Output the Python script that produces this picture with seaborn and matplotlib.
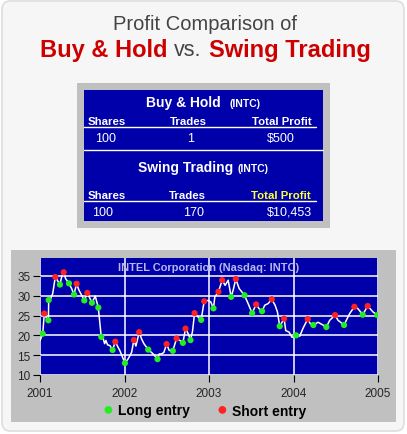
import numpy as np
import pandas as pd
import seaborn as sns
import matplotlib.pyplot as plt
from matplotlib.patches import FancyBboxPatch, Rectangle

# INTC weekly close trace, decimal year / price
price_t = [2001.000, 2001.032, 2001.051, 2001.079, 2001.099, 2001.103, 2001.126, 2001.150, 2001.181, 2001.205,
           2001.236, 2001.256, 2001.280, 2001.303, 2001.343, 2001.374, 2001.402, 2001.433, 2001.461, 2001.493,
           2001.524, 2001.560, 2001.591, 2001.615, 2001.654, 2001.690, 2001.725, 2001.749, 2001.765, 2001.780,
           2001.800, 2001.828, 2001.859, 2001.891, 2001.914, 2001.946, 2002.005, 2002.044, 2002.084, 2002.111,
           2002.135, 2002.174, 2002.202, 2002.230, 2002.281, 2002.340, 2002.391, 2002.411, 2002.438, 2002.466,
           2002.498, 2002.529, 2002.572, 2002.616, 2002.655, 2002.691, 2002.722, 2002.754, 2002.781, 2002.805,
           2002.829, 2002.872, 2002.907, 2002.943, 2002.990, 2003.022, 2003.053, 2003.069, 2003.112, 2003.156,
           2003.191, 2003.227, 2003.262, 2003.286, 2003.317, 2003.357, 2003.420, 2003.463, 2003.510, 2003.558,
           2003.593, 2003.628, 2003.660, 2003.699, 2003.743, 2003.782, 2003.810, 2003.837, 2003.889, 2003.908,
           2003.948, 2003.983, 2004.031, 2004.074, 2004.113, 2004.168, 2004.200, 2004.235, 2004.291, 2004.389,
           2004.429, 2004.492, 2004.527, 2004.598, 2004.665, 2004.720, 2004.764, 2004.819, 2004.878, 2004.941,
           2004.992]
price_v = [18.7, 20.4, 25.5, 24.2, 23.8, 28.9, 29.3, 30.5, 34.7, 33.9,
           32.8, 34.7, 35.9, 34.3, 33.1, 31.8, 30.3, 33.0, 31.4, 30.1,
           28.8, 30.7, 29.3, 28.2, 29.9, 27.0, 19.6, 19.1, 17.9, 18.7,
           17.6, 17.4, 16.3, 18.4, 17.4, 16.1, 13.0, 14.1, 15.7, 18.8,
           17.3, 20.8, 19.1, 17.9, 16.4, 15.3, 14.0, 15.3, 15.3, 15.7,
           17.8, 16.2, 16.1, 19.2, 18.7, 18.1, 21.7, 20.4, 18.8, 21.0,
           25.6, 24.6, 23.9, 28.6, 28.8, 28.4, 26.8, 29.7, 31.0, 33.9,
           32.6, 33.9, 29.7, 31.4, 34.2, 31.8, 30.1, 28.0, 25.6, 27.8,
           26.7, 26.1, 27.6, 28.0, 29.1, 27.6, 25.9, 22.3, 24.2, 21.2,
           20.8, 19.5, 20.0, 19.8, 21.8, 24.1, 22.9, 22.6, 23.3, 22.1,
           23.8, 25.1, 23.8, 22.6, 25.5, 27.2, 26.7, 25.2, 27.4, 25.9,
           25.1]

long_t = [2001.032, 2001.099, 2001.103, 2001.236, 2001.343, 2001.402, 2001.524, 2001.615, 2001.690, 2001.725,
          2001.859, 2002.005, 2002.281, 2002.391, 2002.572, 2002.691, 2002.781, 2002.907, 2003.053, 2003.262,
          2003.420, 2003.510, 2003.628, 2003.837, 2004.031, 2004.235, 2004.389, 2004.598, 2004.819, 2004.992]
long_v = [20.4, 23.8, 28.9, 32.8, 33.1, 30.3, 28.8, 28.2, 27.0, 19.6,
          16.3, 13.0, 16.4, 14.0, 16.1, 18.1, 18.8, 23.9, 26.8, 29.7,
          30.1, 25.6, 26.1, 22.3, 20.0, 22.6, 22.1, 22.6, 25.2, 25.1]

short_t = [2001.051, 2001.181, 2001.280, 2001.433, 2001.560, 2001.891, 2002.111, 2002.174, 2002.498, 2002.616,
           2002.722, 2002.829, 2002.943, 2003.112, 2003.156, 2003.317, 2003.558, 2003.743, 2003.889, 2004.168,
           2004.492, 2004.720, 2004.878]
short_v = [25.5, 34.7, 35.9, 33.0, 30.7, 18.4, 18.8, 20.8, 17.8, 19.2,
           21.7, 25.6, 28.6, 31.0, 33.9, 34.2, 27.8, 29.1, 24.2, 24.1,
           25.1, 27.2, 27.4]

years = [2001, 2002, 2003, 2004, 2005]
yticks = [10, 15, 20, 25, 30, 35]

headers = ["Shares", "Trades", "Total Profit"]
bh_row = ["100", "1", "$500"]
sw_row = ["100", "170", "$10,453"]

W, H = 407, 435
RED = "#cc0000"
BLUE = "#0000aa"
PANEL = "#c0c0c0"

sns.set_style("white")
plt.rcParams["font.family"] = ["Liberation Sans", "DejaVu Sans"]


def fx(x):
    return x / W


def fy(y):
    return 1 - y / H


fig = plt.figure(figsize=(W / 100, H / 100), dpi=100)
fig.patch.set_facecolor("white")
fig.patches.append(FancyBboxPatch((fx(2), fy(432)), fx(402), 430 / H, boxstyle="round,pad=0,rounding_size=0.02",
                                  transform=fig.transFigure, fc="#f6f6f6", ec="#dddddd", lw=1.2, zorder=-3))

# title
fig.text(fx(205), fy(25), "Profit Comparison of", ha="center", va="center", fontsize=14.5, color="#444444")
fig.canvas.draw()
r = fig.canvas.get_renderer()
parts = [("Buy & Hold", "bold", RED, 17), ("vs.", "normal", "#444444", 15.5), ("Swing Trading", "bold", RED, 17)]
txts = [fig.text(0, fy(50), s, ha="left", va="center", fontsize=fs, fontweight=w, color=c) for s, w, c, fs in parts]
widths = [t.get_window_extent(r).width for t in txts]
gap = 7
x0 = 205 - (sum(widths) + 2 * gap) / 2
for t, wd in zip(txts, widths):
    t.set_x(fx(x0))
    x0 += wd + gap

# summary table
fig.patches.append(Rectangle((fx(77), fy(229)), fx(253), 145 / H, transform=fig.transFigure, fc=PANEL, ec="none",
                             zorder=-2))
fig.patches.append(Rectangle((fx(84), fy(222)), fx(239), 131 / H, transform=fig.transFigure, fc=BLUE, ec="none",
                             zorder=-1))
hx = [107, 188, 282]
fig.text(fx(221), fy(103), "Buy & Hold", ha="right", va="center", fontsize=10, fontweight="bold", color="white")
fig.text(fx(230), fy(104), "(INTC)", ha="left", va="center", fontsize=7.5, fontweight="bold", color="white")
for x, h in zip(hx, headers):
    fig.text(fx(x), fy(122), h, ha="center", va="center", fontsize=8.2, fontweight="bold", color="white")
for x, v in zip([106, 191, 281], bh_row):
    fig.text(fx(x), fy(139), v, ha="center", va="center", fontsize=9, color="white")
fig.lines.append(plt.Line2D([fx(84), fx(316)], [fy(128), fy(128)], transform=fig.transFigure, color="white", lw=1))
fig.lines.append(plt.Line2D([fx(84), fx(323)], [fy(151), fy(151)], transform=fig.transFigure, color="white", lw=1))
fig.text(fx(233), fy(168), "Swing Trading", ha="right", va="center", fontsize=10, fontweight="bold", color="white")
fig.text(fx(238), fy(169), "(INTC)", ha="left", va="center", fontsize=7.5, fontweight="bold", color="white")
for x, h, c in zip([107, 187, 281], headers, ["white", "white", "#ffff33"]):
    fig.text(fx(x), fy(196), h, ha="center", va="center", fontsize=8.2, fontweight="bold", color=c)
for x, v in zip([103, 194, 289], sw_row):
    fig.text(fx(x), fy(213), v, ha="center", va="center", fontsize=9, color="white")
fig.lines.append(plt.Line2D([fx(84), fx(316)], [fy(202), fy(202)], transform=fig.transFigure, color="white", lw=1))

# chart panel
fig.patches.append(Rectangle((fx(11), fy(423)), fx(385), 172 / H, transform=fig.transFigure, fc=PANEL, ec="none",
                             zorder=-2))
ax = fig.add_axes([fx(40), fy(376), fx(338), 117 / H])
ax.set_facecolor(BLUE)

prices = pd.DataFrame({"t": price_t, "v": price_v})
longs = pd.DataFrame({"t": long_t, "v": long_v})
shorts = pd.DataFrame({"t": short_t, "v": short_v})

sns.lineplot(data=prices, x="t", y="v", ax=ax, color="white", lw=1.1, zorder=3)
sns.scatterplot(data=longs, x="t", y="v", ax=ax, color="#22ee22", s=20, edgecolor="none", zorder=4)
sns.scatterplot(data=shorts, x="t", y="v", ax=ax, color="#ff2222", s=20, edgecolor="none", zorder=4)

ax.set_xlim(2001, 2005)
ax.set_ylim(10, 39.5)
ax.set_xticks(years)
ax.set_xticklabels([str(y) for y in years], fontsize=8.5)
ax.set_yticks(yticks)
ax.set_yticklabels([str(y) for y in yticks], fontsize=8.5)
ax.grid(True, color="white", lw=1.1)
ax.set_axisbelow(True)
ax.tick_params(axis="both", which="both", length=5, width=0.8, color="black", direction="out",
               bottom=True, left=True)
ax.tick_params(axis="x", pad=4)
ax.tick_params(axis="y", pad=2)
for s in ax.spines.values():
    s.set_visible(False)
ax.set_xlabel("")
ax.set_ylabel("")
ax.text(0.5, 0.92, "INTEL Corporation (Nasdaq: INTC)", transform=ax.transAxes, ha="center", va="center",
        fontsize=7.9, fontweight="bold", color="#b8b8ec")

# legend
fig.text(fx(108), fy(410), "\u25CF", ha="center", va="center", fontsize=13, color="#22ee22")
fig.text(fx(118), fy(411), "Long entry", ha="left", va="center", fontsize=10, fontweight="bold", color="black")
fig.text(fx(222), fy(410), "\u25CF", ha="center", va="center", fontsize=13, color="#ff2222")
fig.text(fx(232), fy(412), "Short entry", ha="left", va="center", fontsize=10, fontweight="bold", color="black")

fig.savefig("out.png", dpi=100, facecolor=fig.get_facecolor())
